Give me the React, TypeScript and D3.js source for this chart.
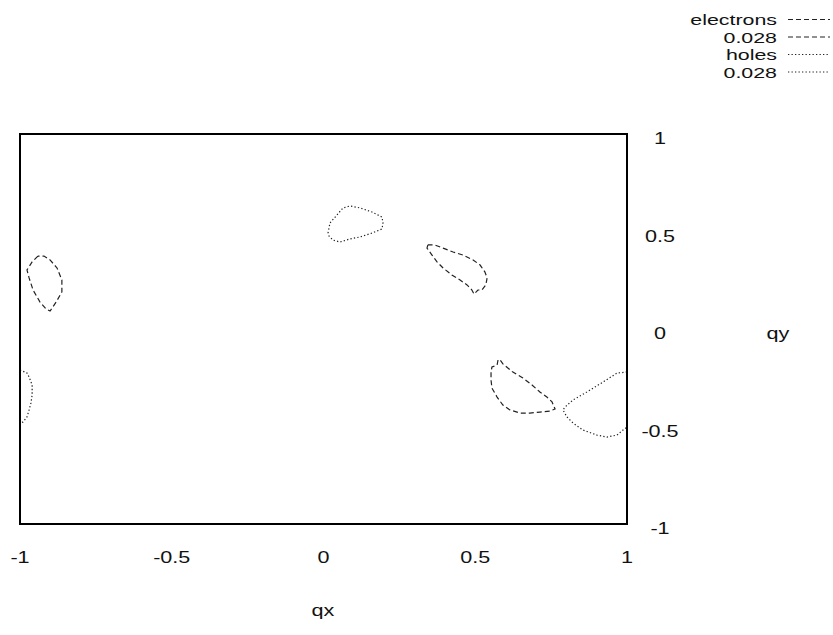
import React from "react";
import * as d3 from "d3";

// Contour lines of the 0.028 level, in (qx, qy) coordinates
const electronsLeft: [number, number][] = [
  [-0.941, 0.374], [-0.96, 0.344], [-0.977, 0.303], [-0.97, 0.262], [-0.957, 0.2],
  [-0.934, 0.138], [-0.914, 0.103], [-0.901, 0.092], [-0.881, 0.138], [-0.862, 0.19],
  [-0.862, 0.251], [-0.878, 0.313], [-0.901, 0.354], [-0.921, 0.374], [-0.941, 0.374],
];
const electronsMid: [number, number][] = [
  [0.344, 0.431], [0.341, 0.415], [0.3575, 0.379], [0.374, 0.344], [0.394, 0.313],
  [0.423, 0.277], [0.45, 0.251], [0.473, 0.226], [0.489, 0.2], [0.496, 0.179],
  [0.509, 0.2], [0.522, 0.2], [0.535, 0.226], [0.539, 0.262], [0.532, 0.292],
  [0.516, 0.328], [0.493, 0.354], [0.46, 0.379], [0.427, 0.395], [0.394, 0.415],
  [0.367, 0.431], [0.344, 0.431],
];
const electronsLow: [number, number][] = [
  [0.575, -0.159], [0.572, -0.185], [0.555, -0.195], [0.552, -0.221], [0.552, -0.262],
  [0.555, -0.303], [0.572, -0.349], [0.591, -0.39], [0.614, -0.415], [0.647, -0.431],
  [0.68, -0.431], [0.713, -0.426], [0.746, -0.421], [0.763, -0.41], [0.753, -0.374],
  [0.736, -0.349], [0.713, -0.323], [0.687, -0.287], [0.657, -0.251], [0.624, -0.221],
  [0.591, -0.179], [0.582, -0.159], [0.575, -0.159],
];
const holesTop: [number, number][] = [
  [0.0148, 0.492], [0.0214, 0.544], [0.0445, 0.585], [0.0643, 0.621], [0.0873, 0.631],
  [0.1203, 0.621], [0.1598, 0.6], [0.1928, 0.574], [0.196, 0.544], [0.1928, 0.513],
  [0.1598, 0.492], [0.1203, 0.472], [0.0873, 0.462], [0.0544, 0.446], [0.0313, 0.456],
  [0.018, 0.477], [0.0148, 0.492],
];
const holesRight: [number, number][] = [
  [1.0, -0.221], [0.967, -0.226], [0.921, -0.272], [0.868, -0.323], [0.822, -0.364],
  [0.796, -0.4], [0.789, -0.415], [0.802, -0.451], [0.822, -0.482], [0.855, -0.518],
  [0.901, -0.544], [0.934, -0.554], [0.967, -0.544], [0.987, -0.518], [1.0, -0.503],
];
const holesLeft: [number, number][] = [
  [-1.0, -0.21], [-0.977, -0.226], [-0.97, -0.246], [-0.96, -0.287], [-0.96, -0.338],
  [-0.964, -0.379], [-0.97, -0.415], [-0.977, -0.451], [-0.99, -0.477], [-1.0, -0.482],
];

const xTicks = [-1, -0.5, 0, 0.5, 1];
const yTicks = [1, 0.5, 0, -0.5, -1];
const legendLabels = ["electrons", "0.028", "holes", "0.028"];

const W = 833;
const H = 635;
const FONT = "'Liberation Sans', Arial, Helvetica, sans-serif";
const DASH = "5,3";
const DOT = "1.3,2.2";

// Text drawn in a slightly wide sans face
function Label(props: {
  x: number;
  y: number;
  anchor?: "start" | "middle" | "end";
  size?: number;
  stretch?: number;
  children: React.ReactNode;
}) {
  return (
    <text
      transform={`translate(${props.x},${props.y}) scale(${props.stretch || 1.27},1)`}
      textAnchor={props.anchor || "middle"}
      fontFamily={FONT}
      fontSize={props.size || 17}
      fill="#111"
    >
      {props.children}
    </text>
  );
}

export default function App() {
  const x = d3.scaleLinear().domain([-1, 1]).range([20, 627]);
  const y = d3.scaleLinear().domain([-1, 1]).range([524, 134]);
  const line = d3
    .line<[number, number]>()
    .x((d) => x(d[0]))
    .y((d) => y(d[1]));

  const electrons = [electronsLeft, electronsMid, electronsLow];
  const holes = [holesTop, holesRight, holesLeft];
  const legendStyles = [DASH, DASH, DOT, DOT];

  return (
    <svg
      width={W}
      height={H}
      style={{ position: "absolute", left: 0, top: 0, background: "#fff" }}
    >
      <rect x={0} y={0} width={W} height={H} fill="#fff" />
      {/* legend */}
      {legendLabels.map((lab, i) => {
        const base = 25 + i * 17.5;
        return (
          <g key={i}>
            <Label x={777} y={base} anchor="end" size={15.5} stretch={1.38}>
              {lab}
            </Label>
            <line
              x1={788}
              x2={830}
              y1={base - 5.5}
              y2={base - 5.5}
              stroke="#222"
              strokeWidth={1.1}
              strokeDasharray={legendStyles[i]}
            />
          </g>
        );
      })}

      {/* contours */}
      {electrons.map((c, i) => (
        <path
          key={"e" + i}
          d={line(c) || ""}
          fill="none"
          stroke="#222"
          strokeWidth={1.2}
          strokeDasharray={DASH}
        />
      ))}
      {holes.map((c, i) => (
        <path
          key={"h" + i}
          d={line(c) || ""}
          fill="none"
          stroke="#222"
          strokeWidth={1.2}
          strokeDasharray={DOT}
        />
      ))}

      {/* frame */}
      <rect
        x={x(-1)}
        y={y(1)}
        width={x(1) - x(-1)}
        height={y(-1) - y(1)}
        fill="none"
        stroke="#000"
        strokeWidth={2}
      />

      {/* tick labels */}
      {xTicks.map((t) => (
        <Label key={"x" + t} x={x(t)} y={563}>
          {t}
        </Label>
      ))}
      {yTicks.map((t) => (
        <Label key={"y" + t} x={660} y={y(t) + 10}>
          {t}
        </Label>
      ))}

      {/* axis titles */}
      <Label x={323} y={616}>
        qx
      </Label>
      <Label x={778} y={339}>
        qy
      </Label>
    </svg>
  );
}
